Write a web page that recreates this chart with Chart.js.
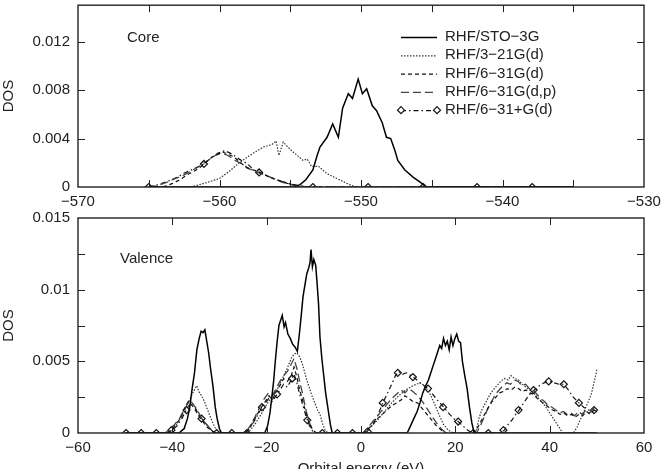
<!DOCTYPE html>
<html>
<head>
<meta charset="utf-8">
<script src="https://cdn.jsdelivr.net/npm/chart.js@4.4.1/dist/chart.umd.min.js"></script>
<style>
  html, body { margin: 0; padding: 0; background: #fff; overflow: hidden; }
  #wrap { position: relative; width: 662px; height: 469px; }
  canvas { position: absolute; left: 0; }
  #core { top: 0; }
  #valence { top: 210px; }
</style>
</head>
<body>
<div id="wrap">
  <canvas id="core" width="662" height="210"></canvas>
  <canvas id="valence" width="662" height="268"></canvas>
</div>
<script>
const seriesNames = ["RHF/STO\u22123G", "RHF/3\u221221G(d)", "RHF/6\u221231G(d)", "RHF/6\u221231G(d,p)", "RHF/6\u221231+G(d)"];

// ---- core region (eV, DOS) ----
const coreStoE = [-565, -554.7, -554.3, -553.9, -553.4, -553.1, -552.9, -552.4, -552.0, -551.6, -551.3, -550.9, -550.6, -550.2, -549.9, -549.6, -549.2, -548.9, -548.5, -548.2, -547.9, -547.6, -547.4, -546.9, -546.3, -545.7, -545.4, -535];
const coreStoDos = [0, 0, 0.0002, 0.0006, 0.0014, 0.0026, 0.0033, 0.0041, 0.0052, 0.0041, 0.0065, 0.0077, 0.0073, 0.0089, 0.0077, 0.0081, 0.0067, 0.0063, 0.0053, 0.0041, 0.0040, 0.0030, 0.0022, 0.0014, 0.0008, 0.0003, 0, 0];

const core321E = [-565, -562.0, -561.4, -560.8, -560.0, -559.3, -558.6, -558.0, -557.6, -556.9, -556.3, -556.0, -555.8, -555.5, -555.0, -554.5, -554.1, -553.8, -553.5, -553.0, -552.4, -551.7, -551.0, -550.4, -535];
const core321Dos = [0, 0, 0.0002, 0.0004, 0.0007, 0.0013, 0.0020, 0.0025, 0.0028, 0.0033, 0.0035, 0.0038, 0.0026, 0.0037, 0.0031, 0.0026, 0.0022, 0.0023, 0.0017, 0.0017, 0.0011, 0.0007, 0.0003, 0, 0];

const core631dE = [-565, -564.0, -563.3, -562.8, -562.3, -561.8, -561.4, -560.9, -560.5, -560.1, -559.8, -559.4, -559.0, -558.6, -558.1, -557.6, -557.1, -556.6, -556.2, -555.7, -555.2, -554.8, -554.3, -535];
const core631dDos = [0, 0, 0.0003, 0.0006, 0.0010, 0.0013, 0.0016, 0.0021, 0.0025, 0.0027, 0.0029, 0.0027, 0.0025, 0.0021, 0.0016, 0.0014, 0.0012, 0.0009, 0.0007, 0.0005, 0.0003, 0.0002, 0, 0];

const core631dpE = [-565, -564.4, -563.7, -563.1, -562.5, -561.9, -561.3, -560.8, -560.3, -559.9, -559.4, -558.9, -558.4, -557.9, -557.3, -556.8, -556.2, -555.6, -555.0, -554.4, -553.8, -535];
const core631dpDos = [0, 0.0001, 0.0004, 0.0007, 0.0010, 0.0014, 0.0018, 0.0022, 0.0026, 0.0028, 0.0026, 0.0022, 0.0019, 0.0015, 0.0012, 0.0010, 0.0007, 0.0004, 0.0002, 0.0001, 0, 0];

const core631pE = [-565, -564.3, -563.6, -563.0, -562.4, -561.8, -561.1, -560.6, -560.1, -559.6, -559.1, -558.6, -558.0, -557.6, -557.2, -556.6, -556.0, -555.4, -554.8, -554.2, -553.7, -535];
const core631pDos = [0, 0.0002, 0.0005, 0.0008, 0.0012, 0.0015, 0.0019, 0.0024, 0.0028, 0.0030, 0.0027, 0.0023, 0.0019, 0.0014, 0.0012, 0.0009, 0.0006, 0.0004, 0.0002, 0.0001, 0, 0];
const coreMarkE = [-565, -561.1, -557.2, -553.4, -549.5, -545.6, -541.8, -537.9];
const coreMarkDos = [0, 0.0019, 0.0012, 0, 0, 0, 0, 0];

// ---- valence region ----
const valStoE = [-50, -38.6, -37.5, -36.8, -36.3, -35.8, -35.3, -34.8, -34.3, -33.9, -33.5, -33.1, -32.7, -32.3, -31.9, -31.4, -30.9, -30.5, -30.0, -29.6,
  -20.4, -19.8, -19.3, -18.9, -18.5, -18.2, -17.8, -17.4, -17.0, -16.7, -16.3, -16.0, -15.5, -15.0, -14.5, -14.0, -13.5, -13.1, -12.7, -12.3, -11.9, -11.5, -11.1, -10.8, -10.6, -10.3, -10.0, -9.6, -9.3, -9.0, -8.7, -8.3, -7.9, -7.5, -7.0, -6.5, -6.1,
  9.8, 10.5, 11.2, 11.9, 12.5, 13.1, 13.7, 14.3, 14.8, 15.3, 15.8, 16.3, 16.7, 17.1, 17.5, 17.9, 18.3, 18.7, 19.1, 19.5, 19.9, 20.3, 20.7, 21.1, 21.5, 22.0, 22.5, 23.0, 23.5, 24.0, 50];
const valStoDos = [0, 0, 0.0003, 0.0010, 0.0018, 0.0031, 0.0042, 0.0058, 0.0066, 0.0071, 0.0070, 0.0072, 0.0064, 0.0056, 0.0045, 0.0033, 0.0018, 0.0010, 0.0003, 0,
  0, 0.0005, 0.0014, 0.0025, 0.0037, 0.0049, 0.0063, 0.0075, 0.0079, 0.0082, 0.0074, 0.0077, 0.0069, 0.0066, 0.0062, 0.0060, 0.0057, 0.0068, 0.0081, 0.0095, 0.0103, 0.0111, 0.0115, 0.0119, 0.0128, 0.0116, 0.0121, 0.0117, 0.0104, 0.0090, 0.0067, 0.0052, 0.0040, 0.0028, 0.0017, 0.0006, 0,
  0, 0.0005, 0.0010, 0.0015, 0.0021, 0.0028, 0.0033, 0.0037, 0.0042, 0.0047, 0.0052, 0.0057, 0.0061, 0.0059, 0.0066, 0.0061, 0.0064, 0.0058, 0.0067, 0.0061, 0.0066, 0.0069, 0.0064, 0.0063, 0.0050, 0.0040, 0.0031, 0.0018, 0.0007, 0, 0];

const val321E = [-50, -41.0, -39.5, -38.5, -37.5, -36.5, -35.8, -35.2, -34.8, -34.4, -33.8, -33.2, -32.5, -31.8, -31.0, -30.3,
  -24.0, -22.5, -21.0, -19.8, -18.8, -17.8, -17.0, -16.2, -15.4, -14.8, -14.2, -13.6, -13.0, -12.5, -12.0, -11.5, -11.0, -10.4, -9.8, -9.2, -8.7, -8.2, -7.6, -7.0,
  0.5, 2.0, 3.5, 5.0, 6.5, 8.0, 9.5, 11.0, 12.5, 13.5, 14.5, 15.5, 16.5, 17.5, 18.5, 19.5,
  24.3, 25.0, 25.6, 26.4, 27.2, 28.0, 28.8, 29.6, 30.4, 31.2, 31.8, 32.6, 33.4, 34.2, 35.0, 35.8, 36.6, 37.4, 38.2, 39.0, 39.8, 40.6, 41.4, 42.2, 42.8, 45.0, 45.8, 46.6, 47.4, 48.2, 48.8, 49.4, 50.0];
const val321Dos = [0, 0, 0.0004, 0.0009, 0.0015, 0.0022, 0.0027, 0.0031, 0.0033, 0.0029, 0.0026, 0.0022, 0.0016, 0.0010, 0.0004, 0,
  0, 0.0006, 0.0014, 0.0021, 0.0026, 0.0030, 0.0036, 0.0041, 0.0047, 0.0052, 0.0055, 0.0056, 0.0053, 0.0049, 0.0043, 0.0037, 0.0032, 0.0026, 0.0021, 0.0016, 0.0013, 0.0007, 0.0002, 0,
  0, 0.0004, 0.0009, 0.0015, 0.0021, 0.0026, 0.0030, 0.0033, 0.0035, 0.0033, 0.0028, 0.0021, 0.0013, 0.0006, 0.0002, 0,
  0, 0.0010, 0.0016, 0.0021, 0.0026, 0.0030, 0.0033, 0.0036, 0.0038, 0.0037, 0.0040, 0.0038, 0.0037, 0.0034, 0.0032, 0.0030, 0.0028, 0.0025, 0.0022, 0.0019, 0.0015, 0.0011, 0.0007, 0.0003, 0, 0, 0.0004, 0.0010, 0.0016, 0.0022, 0.0027, 0.0035, 0.0044];

const val631dE = [-50, -41.0, -40.0, -39.0, -38.0, -37.3, -36.6, -36.0, -35.3, -34.6, -34.0, -33.3, -32.6, -31.8, -31.0,
  -24.5, -23.5, -22.5, -21.5, -20.5, -19.5, -18.8, -18.0, -17.2, -16.4, -15.6, -14.8, -14.2, -13.6, -13.0, -12.3, -11.6, -10.9, -10.2, -9.5,
  0.5, 1.5, 2.5, 3.5, 4.5, 5.5, 6.5, 7.5, 8.5, 9.3, 10.2, 11.0, 12.0, 13.0, 14.0, 15.0, 16.0, 17.0, 18.0,
  23.8, 24.6, 25.4, 26.2, 27.0, 27.8, 28.6, 29.4, 30.2, 31.0, 31.8, 32.6, 33.4, 34.2, 35.0, 35.8, 36.6, 37.4, 38.2, 39.0, 39.8, 40.6, 41.4, 42.2, 43.0, 43.8, 44.6, 45.4, 46.2, 47.0, 47.8, 48.6, 49.4, 50.0];
const val631dDos = [0, 0, 0.0003, 0.0007, 0.0012, 0.0018, 0.0022, 0.0020, 0.0017, 0.0013, 0.0010, 0.0007, 0.0004, 0.0002, 0,
  0, 0.0004, 0.0010, 0.0016, 0.0021, 0.0026, 0.0023, 0.0029, 0.0033, 0.0038, 0.0036, 0.0040, 0.0046, 0.0039, 0.0030, 0.0022, 0.0013, 0.0006, 0.0002, 0,
  0, 0.0003, 0.0006, 0.0010, 0.0013, 0.0016, 0.0019, 0.0021, 0.0023, 0.0026, 0.0024, 0.0022, 0.0021, 0.0017, 0.0013, 0.0009, 0.0005, 0.0002, 0,
  0, 0.0003, 0.0008, 0.0013, 0.0018, 0.0022, 0.0025, 0.0028, 0.0029, 0.0031, 0.0030, 0.0032, 0.0031, 0.0029, 0.0030, 0.0028, 0.0027, 0.0024, 0.0022, 0.0020, 0.0018, 0.0016, 0.0015, 0.0013, 0.0014, 0.0012, 0.0013, 0.0011, 0.0013, 0.0012, 0.0015, 0.0013, 0.0016, 0.0014];

const val631dpE = [-50, -41.5, -40.5, -39.5, -38.5, -37.7, -37.0, -36.4, -35.8, -35.1, -34.4, -33.7, -33.0, -32.2, -31.4, -30.8,
  -24.5, -23.5, -22.5, -21.5, -20.5, -19.6, -18.8, -18.0, -17.2, -16.4, -15.6, -14.8, -14.2, -13.6, -13.0, -12.3, -11.6, -10.9, -10.2, -9.5,
  0.5, 1.5, 2.5, 3.5, 4.5, 5.5, 6.5, 7.5, 8.5, 9.3, 10.2, 11.0, 12.0, 13.0, 14.0, 15.0, 16.0, 17.0, 18.0,
  24.5, 25.3, 26.1, 26.9, 27.7, 28.5, 29.3, 30.1, 30.9, 31.7, 32.5, 33.3, 34.1, 34.9, 35.7, 36.5, 37.3, 38.1, 38.9, 39.7, 40.5, 41.3, 42.1, 42.9, 43.7, 44.5, 45.3, 46.1, 46.9, 47.7, 48.5, 49.3, 50.0];
const val631dpDos = [0, 0, 0.0003, 0.0006, 0.0010, 0.0015, 0.0019, 0.0023, 0.0021, 0.0018, 0.0014, 0.0010, 0.0007, 0.0004, 0.0001, 0,
  0, 0.0005, 0.0011, 0.0018, 0.0024, 0.0028, 0.0026, 0.0031, 0.0036, 0.0040, 0.0043, 0.0048, 0.0052, 0.0045, 0.0036, 0.0026, 0.0015, 0.0007, 0.0002, 0,
  0, 0.0004, 0.0008, 0.0012, 0.0016, 0.0020, 0.0024, 0.0027, 0.0030, 0.0028, 0.0031, 0.0029, 0.0026, 0.0022, 0.0017, 0.0012, 0.0007, 0.0003, 0,
  0, 0.0005, 0.0011, 0.0017, 0.0022, 0.0027, 0.0030, 0.0033, 0.0035, 0.0034, 0.0037, 0.0036, 0.0033, 0.0034, 0.0031, 0.0030, 0.0027, 0.0024, 0.0022, 0.0019, 0.0018, 0.0016, 0.0014, 0.0015, 0.0013, 0.0014, 0.0012, 0.0015, 0.0013, 0.0016, 0.0014, 0.0017, 0.0015];

const val631pE = [-50, -41.0, -40.0, -39.0, -38.0, -37.2, -36.5, -35.8, -35.2, -34.6, -34.0, -33.3, -32.5, -31.7, -31.0,
  -24.5, -23.5, -22.5, -21.5, -20.5, -19.6, -18.8, -18.0, -17.2, -16.4, -15.6, -14.8, -14.2, -13.6, -13.0, -12.3, -11.6, -10.9, -10.2, -9.5,
  0.0, 1.3, 2.5, 3.5, 4.5, 5.5, 6.5, 7.3, 8.0, 8.8, 9.6, 10.6, 11.5, 12.5, 13.4, 14.2, 15.2, 16.2, 17.0, 17.8, 18.8, 19.7, 20.6, 21.6, 22.6, 23.6,
  29.5, 30.4, 31.2, 32.0, 32.8, 33.5, 34.5, 35.5, 36.7, 37.8, 38.8, 39.9, 41.0, 42.0, 43.0, 44.0, 45.0, 46.2, 47.2, 48.3, 49.4, 50.0];
const val631pDos = [0, 0, 0.0002, 0.0005, 0.0010, 0.0015, 0.0019, 0.0021, 0.0018, 0.0014, 0.0011, 0.0008, 0.0005, 0.0002, 0,
  0, 0.0004, 0.0009, 0.0015, 0.0020, 0.0024, 0.0022, 0.0026, 0.0030, 0.0034, 0.0032, 0.0037, 0.0041, 0.0035, 0.0027, 0.0019, 0.0011, 0.0005, 0.0001, 0,
  0, 0.0001, 0.0006, 0.0012, 0.0020, 0.0027, 0.0034, 0.0040, 0.0043, 0.0041, 0.0042, 0.0040, 0.0038, 0.0035, 0.0033, 0.0031, 0.0027, 0.0023, 0.0020, 0.0017, 0.0013, 0.0010, 0.0008, 0.0005, 0.0002, 0,
  0, 0.0002, 0.0006, 0.0009, 0.0013, 0.0016, 0.0021, 0.0026, 0.0030, 0.0033, 0.0035, 0.0036, 0.0035, 0.0034, 0.0034, 0.0030, 0.0025, 0.0021, 0.0018, 0.0016, 0.0016, 0.0015];
const valMarkE = [-49.8, -46.6, -43.4, -40.2, -37.0, -33.8, -30.6, -27.4, -24.2, -21.0, -17.8, -14.6, -11.4, -8.2, -5.0, -1.8, 1.4, 4.6, 7.8, 11.0, 14.2, 17.4, 20.6, 23.8, 27.0, 30.2, 33.4, 36.6, 39.8, 43.0, 46.2, 49.4];
const valMarkDos = [0, 0, 0, 0.0002, 0.0016, 0.0010, 0, 0, 0, 0.0018, 0.0027, 0.0038, 0.0009, 0, 0, 0, 0.0001, 0.0021, 0.0042, 0.0039, 0.0031, 0.0018, 0.0008, 0, 0, 0.0002, 0.0016, 0.0030, 0.0036, 0.0034, 0.0021, 0.0016];

const pts = (xs, ys) => xs.map((x, i) => ({ x, y: ys[i] }));
const minus = (v) => (v < 0 ? "\u2212" : "") + Math.abs(v);

Chart.defaults.font.family = '"Liberation Sans", Arial, sans-serif';
Chart.defaults.font.size = 15;
Chart.defaults.color = "#222";

// line styles for the five basis sets
const styles = [
  { borderColor: "#000", borderWidth: 1.5, borderDash: [] },
  { borderColor: "#333", borderWidth: 1.2, borderDash: [1.5, 1.5] },
  { borderColor: "#111", borderWidth: 1.2, borderDash: [4, 3] },
  { borderColor: "#444", borderWidth: 1.3, borderDash: [8, 4] },
  { borderColor: "#111", borderWidth: 1.2, borderDash: [5, 3, 1.5, 3] },
];

function buildSets(lines, markE, markDos) {
  const sets = lines.map(([xs, ys], i) => ({
    label: seriesNames[i],
    data: pts(xs, ys),
    ...styles[i],
    pointRadius: 0,
    fill: false,
    tension: 0,
  }));
  sets.push({
    label: "markers",
    data: pts(markE, markDos),
    showLine: false,
    pointStyle: "rectRot",
    pointRadius: 3.5,
    pointBorderWidth: 1.2,
    pointBorderColor: "#111",
    pointBackgroundColor: "#fff",
  });
  return sets;
}

// box frame with inward tick marks on all four sides, plus panel label
const frameTicks = {
  id: "frameTicks",
  afterDatasetsDraw(chart, args, opts) {
    const { ctx, chartArea: a, scales: { x, y } } = chart;
    const L = 7;
    ctx.save();
    ctx.strokeStyle = "#222";
    ctx.lineWidth = 1;
    ctx.beginPath();
    x.ticks.forEach((t) => {
      const px = Math.round(x.getPixelForValue(t.value)) + 0.5;
      if (px <= a.left + 1 || px >= a.right - 1) return;
      ctx.moveTo(px, a.bottom); ctx.lineTo(px, a.bottom - L);
      ctx.moveTo(px, a.top); ctx.lineTo(px, a.top + L);
    });
    y.ticks.forEach((t) => {
      const py = Math.round(y.getPixelForValue(t.value)) + 0.5;
      if (py <= a.top + 1 || py >= a.bottom - 1) return;
      ctx.moveTo(a.left, py); ctx.lineTo(a.left + L, py);
      ctx.moveTo(a.right, py); ctx.lineTo(a.right - L, py);
    });
    ctx.stroke();
    ctx.lineWidth = 1.4;
    ctx.strokeRect(a.left, a.top, a.right - a.left, a.bottom - a.top);
    ctx.fillStyle = "#222";
    ctx.font = '15px "Liberation Sans", Arial, sans-serif';
    ctx.textBaseline = "middle";
    ctx.fillText(opts.label, opts.labelX, opts.labelY);
    ctx.restore();
  },
};

// gnuplot-like key drawn from the dataset styles
const seriesKey = {
  id: "seriesKey",
  afterDraw(chart, args, opts) {
    const { ctx } = chart;
    ctx.save();
    ctx.font = '15px "Liberation Sans", Arial, sans-serif';
    ctx.textBaseline = "middle";
    chart.data.datasets.slice(0, 5).forEach((ds, i) => {
      const yy = opts.top + i * opts.step;
      ctx.strokeStyle = ds.borderColor;
      ctx.lineWidth = ds.borderWidth;
      ctx.setLineDash(ds.borderDash);
      ctx.beginPath();
      ctx.moveTo(opts.x0, yy + 0.5);
      ctx.lineTo(opts.x1, yy + 0.5);
      ctx.stroke();
      ctx.setLineDash([]);
      if (i === 4) {
        [opts.x0, opts.x1].forEach((mx) => {
          ctx.beginPath();
          ctx.moveTo(mx, yy - 3.5); ctx.lineTo(mx + 3.5, yy);
          ctx.lineTo(mx, yy + 3.5); ctx.lineTo(mx - 3.5, yy);
          ctx.closePath();
          ctx.fillStyle = "#fff";
          ctx.fill();
          ctx.strokeStyle = "#111";
          ctx.lineWidth = 1.2;
          ctx.stroke();
        });
      }
      ctx.fillStyle = "#222";
      ctx.fillText(ds.label, opts.textX, yy);
    });
    ctx.restore();
  },
};

function panelOptions(p) {
  return {
    responsive: false,
    animation: false,
    devicePixelRatio: 1,
    layout: { padding: { top: p.padTop, right: 18, left: 0, bottom: 0 } },
    plugins: {
      legend: { display: false },
      tooltip: { enabled: false },
      frameTicks: { label: p.label, labelX: p.labelX, labelY: p.labelY },
      seriesKey: p.key || false,
    },
    scales: {
      x: {
        type: "linear",
        min: p.xMin,
        max: p.xMax,
        grid: { display: false },
        border: { display: false },
        ticks: {
          stepSize: p.xStep,
          autoSkip: false,
          maxRotation: 0,
          padding: -2,
          color: "#222",
          callback: p.xLabel,
        },
        title: p.xTitle
          ? { display: true, text: p.xTitle, color: "#222", padding: { top: 0, bottom: 0 } }
          : { display: false },
        afterFit: (s) => { s.height = p.xHeight; s.paddingLeft = 0; s.paddingRight = 0; },
      },
      y: {
        min: 0,
        max: 0.015,
        grid: { display: false },
        border: { display: false },
        ticks: {
          stepSize: p.yStep,
          includeBounds: false,
          padding: 0,
          color: "#222",
          callback: p.yLabel,
        },
        title: { display: true, text: "DOS", color: "#222", padding: 0 },
        afterFit: (s) => { s.width = 78; s.paddingTop = 0; s.paddingBottom = 0; },
      },
    },
  };
}

new Chart(document.getElementById("core"), {
  type: "line",
  data: {
    datasets: buildSets(
      [[coreStoE, coreStoDos], [core321E, core321Dos], [core631dE, core631dDos], [core631dpE, core631dpDos], [core631pE, core631pDos]],
      coreMarkE, coreMarkDos
    ),
  },
  options: panelOptions({
    padTop: 2, xHeight: 23, xMin: -570, xMax: -530, xStep: 5, yStep: 0.004,
    xLabel: (v) => (v % 10 === 0 ? minus(v) : ""),
    yLabel: (v) => (v === 0 ? "0" : v.toFixed(3)),
    label: "Core", labelX: 127, labelY: 38,
    key: { x0: 401, x1: 437, textX: 445, top: 37, step: 18.3 },
  }),
  plugins: [frameTicks, seriesKey],
});

new Chart(document.getElementById("valence"), {
  type: "line",
  data: {
    datasets: buildSets(
      [[valStoE, valStoDos], [val321E, val321Dos], [val631dE, val631dDos], [val631dpE, val631dpDos], [val631pE, val631pDos]],
      valMarkE, valMarkDos
    ),
  },
  options: panelOptions({
    padTop: 8, xHeight: 45, xMin: -60, xMax: 60, xStep: 20, yStep: 0.0025,
    xLabel: (v) => minus(v),
    yLabel: (v) => {
      const k = Math.round(v / 0.0025);
      if (k % 2) return "";
      return k === 0 ? "0" : String(+(k * 0.0025).toFixed(4));
    },
    xTitle: "Orbital energy (eV)",
    label: "Valence", labelX: 120, labelY: 49,
  }),
  plugins: [frameTicks],
});
</script>
</body>
</html>
